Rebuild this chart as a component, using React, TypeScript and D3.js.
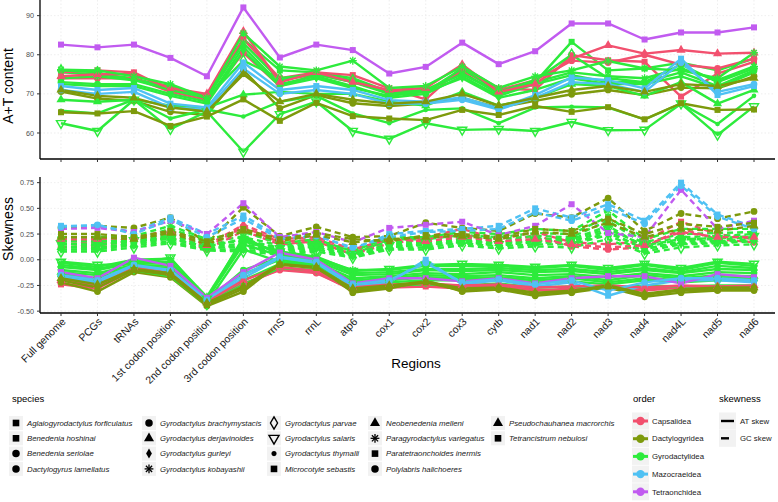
import React from "react";
import * as d3 from "d3";

const regions = ["Full genome","PCGs","tRNAs","1st codon position","2nd codon position","3rd codon position","rrnS","rrnL","atp6","cox1","cox2","cox3","cytb","nad1","nad2","nad3","nad4","nad4L","nad5","nad6"];

const speciesNames = [
  "Aglaiogyrodactylus forficulatus","Benedenia hoshinai","Benedenia seriolae","Dactylogyrus lamellatus",
  "Gyrodactylus brachymystacis","Gyrodactylus derjavinoides","Gyrodactylus gurleyi","Gyrodactylus kobayashii",
  "Gyrodactylus parvae","Gyrodactylus salaris","Gyrodactylus thymalli","Microcotyle sebastis",
  "Neobenedenia melleni","Paragyrodactylus variegatus","Paratetraonchoides inermis","Polylabris halichoeres",
  "Pseudochauhanea macrorchis","Tetrancistrum nebulosi"];

const speciesOrder = [
  "Gyrodactylidea","Capsalidea","Capsalidea","Dactylogyridea",
  "Gyrodactylidea","Gyrodactylidea","Gyrodactylidea","Gyrodactylidea",
  "Gyrodactylidea","Gyrodactylidea","Gyrodactylidea","Mazocraeidea",
  "Capsalidea","Gyrodactylidea","Tetraonchidea","Mazocraeidea",
  "Dactylogyridea","Dactylogyridea"];

const speciesShape = [
  "square","square","circle","circle",
  "circle","triangle","diamond","asterisk",
  "opendiamond","opentriangledown","smallcircle","square",
  "triangle","asterisk","square","circle",
  "triangle","square"];

const orders = ["Capsalidea","Dactylogyridea","Gyrodactylidea","Mazocraeidea","Tetraonchidea"];
const orderColors = ["#F2506E","#7D9A0C","#2DEB3C","#4FC1F3","#C15BF0"];

const skewTypes = ["AT skew","GC skew"];
const atTicks = [60,70,80,90];
const skewTicks = [-0.5,-0.25,0,0.25,0.5,0.75];
const skewTickLabels = ["-0.50","-0.25","0.00","0.25","0.50","0.75"];

const atContent = [
  [75.5,75,74,71.5,69.5,84,76,75.5,74,70.5,71,75.5,70,73,83.3,76,76.5,78,76,79],
  [75.5,76,75.5,71,69.5,84,74,75.5,74.8,71.4,68.6,76.9,71.4,71,79.9,78.6,78.2,69.3,75.2,78.2],
  [74,74,74,70.5,68.5,80.5,72,75,73,70.5,70.5,76,71,73.5,78.5,78,80,77.5,76.5,79],
  [70.6,68.8,68.2,65.4,64.6,76.1,66.3,69.7,67.6,66.9,67.5,69,66.5,68.2,69.9,71,69.7,71.6,71.4,74.5],
  [73,72.5,72.5,70,68,82,72.5,74.5,72,69,70,74.5,69.5,72.5,74.8,73,73,75.5,72,76],
  [68.5,68,68.5,67,66.5,69.8,70.5,70,70,68,67,70.5,67,69,72.5,72,69.5,73,67.5,71],
  [72.5,72,72,69.5,67.5,81,72,74,71.5,69.5,70.5,74,69,71,74,72.5,72.5,74.5,71.5,75.5],
  [74,74.5,73.5,72,69,83,73.5,75,73,70,71,75,70.5,73,75.5,74.5,74,76.5,73.5,77],
  [76,75.5,73.5,71,69,78.5,74,75,73.5,70,70.5,76.5,70.5,73.5,80,74,73,77.5,73,76.5],
  [62.5,60.5,68.5,61,65.5,55.2,64.8,68,60.5,58.5,62.5,60.8,61,60.5,62.8,60.7,60.8,67.5,59.5,66.8],
  [65.7,65,68.5,63.7,66,64.2,68,69.5,65,62.5,65.9,66.3,62.5,66.5,66.7,66.5,63.5,67.5,62.3,69.5],
  [72,71,71.5,67.5,66.5,78,71,72,71,68.4,68,69.1,66.3,69.7,74.2,73.5,71.4,79,69.7,72],
  [74.5,75,75,71.5,70,86,73,75.5,73,71,71.5,77.5,70.5,72.5,79,82.4,80.3,81.2,80.3,80.5],
  [76.2,76,74.5,72.5,69,85.5,77,76,78.5,71.5,72,77,71.5,74.5,76,78.4,76.5,76,74,80.5],
  [82.6,81.9,82.6,79.2,74.5,92.1,79.3,82.6,81.2,75.2,76.9,83.1,77.6,80.9,88,88,83.9,85.7,85.7,87],
  [71,70,70.5,66.5,66,76.5,70,71,70,67.5,67.5,68.5,66,69,73,72.5,70.5,78,70.5,72.5],
  [71,69.5,69,66.5,65.5,75,68,70,68.5,67.5,68,70,67,69,71,72,70.5,72.5,72,74],
  [65.3,65,65.6,61.8,64.2,68.6,63.1,67.7,64.3,63.7,63.3,65.9,64.6,66.9,65.4,66.6,63.5,67.6,65.9,66]
];

const atSkew = [
  [-0.05,-0.09,-0.02,-0.02,-0.38,0.15,0.04,0.01,-0.13,-0.12,-0.09,-0.09,-0.08,-0.1,-0.09,-0.12,-0.08,-0.12,-0.06,-0.08],
  [-0.24,-0.28,-0.1,-0.15,-0.43,-0.25,-0.09,-0.12,-0.3,-0.27,-0.26,-0.28,-0.25,-0.3,-0.28,-0.28,-0.3,-0.27,-0.28,-0.27],
  [-0.23,-0.27,-0.09,-0.14,-0.42,-0.23,-0.1,-0.13,-0.29,-0.26,-0.25,-0.27,-0.26,-0.29,-0.3,-0.27,-0.29,-0.26,-0.29,-0.28],
  [-0.22,-0.31,-0.12,-0.17,-0.45,-0.31,-0.03,-0.06,-0.32,-0.28,-0.2,-0.31,-0.29,-0.35,-0.32,-0.27,-0.36,-0.32,-0.3,-0.3],
  [-0.1,-0.13,-0.05,-0.06,-0.4,-0.1,0.02,-0.03,-0.18,-0.16,-0.13,-0.14,-0.12,-0.15,-0.14,-0.17,-0.13,-0.16,-0.12,-0.13],
  [-0.12,-0.15,-0.06,-0.08,-0.41,-0.14,0,-0.05,-0.2,-0.18,-0.15,-0.16,-0.15,-0.18,-0.16,-0.2,-0.15,-0.18,-0.15,-0.16],
  [-0.14,-0.18,-0.07,-0.1,-0.42,0.1,-0.02,-0.06,-0.22,-0.2,-0.17,-0.18,-0.17,-0.2,-0.18,-0.22,-0.18,-0.2,-0.17,-0.18],
  [-0.07,-0.1,-0.03,-0.04,-0.39,0.22,0.05,-0.01,-0.15,-0.14,-0.1,-0.11,-0.1,-0.12,-0.11,-0.14,-0.1,-0.13,-0.09,-0.1],
  [-0.16,-0.2,-0.08,-0.12,-0.43,-0.2,-0.04,-0.08,-0.24,-0.22,-0.2,-0.2,-0.19,-0.22,-0.21,-0.24,-0.2,-0.22,-0.2,-0.2],
  [-0.02,-0.05,-0.04,0.02,-0.38,0.18,0.08,0.03,-0.11,-0.09,-0.05,-0.04,-0.05,-0.07,-0.05,-0.08,-0.04,-0.08,-0.02,-0.04],
  [-0.2,-0.24,-0.1,-0.16,-0.44,-0.24,-0.08,-0.1,-0.28,-0.25,-0.24,-0.25,-0.23,-0.27,-0.26,-0.28,-0.25,-0.26,-0.25,-0.25],
  [-0.17,-0.22,-0.06,-0.11,-0.4,-0.18,0.02,-0.03,-0.26,-0.22,0,-0.24,-0.2,-0.26,-0.22,-0.35,-0.25,-0.2,-0.2,-0.22],
  [-0.2,-0.25,-0.08,-0.13,-0.41,-0.2,-0.07,-0.11,-0.27,-0.24,-0.23,-0.25,-0.24,-0.27,-0.26,-0.25,-0.27,-0.25,-0.26,-0.25],
  [-0.03,-0.07,0,0.01,-0.36,0.2,0.06,0.02,-0.1,-0.1,-0.06,-0.06,-0.06,-0.08,-0.06,-0.1,-0.05,-0.1,-0.03,-0.06],
  [-0.12,-0.18,0.02,-0.06,-0.37,-0.12,0.07,0,-0.23,-0.18,-0.18,-0.21,-0.18,-0.23,-0.18,-0.16,-0.16,-0.23,-0.14,-0.17],
  [-0.15,-0.2,-0.05,-0.1,-0.39,-0.15,0.03,-0.02,-0.24,-0.2,-0.03,-0.22,-0.19,-0.24,-0.2,-0.3,-0.22,-0.18,-0.18,-0.2],
  [-0.18,-0.24,-0.09,-0.13,-0.42,-0.26,-0.04,-0.07,-0.28,-0.25,-0.21,-0.28,-0.27,-0.32,-0.3,-0.25,-0.33,-0.29,-0.27,-0.27],
  [-0.2,-0.27,-0.1,-0.15,-0.44,-0.28,-0.05,-0.08,-0.3,-0.27,-0.22,-0.3,-0.28,-0.33,-0.31,-0.26,-0.34,-0.3,-0.29,-0.28]
];

const gcSkew = [
  [0.2,0.21,0.2,0.3,0.18,0.22,0.14,0.18,0.05,0.2,0.2,0.24,0.22,0.26,0.25,0.42,0.17,0.25,0.26,0.27],
  [0.15,0.17,0.2,0.25,0.12,0.32,0.17,0.2,0.07,0.18,0.22,0.3,0.2,0.27,0.17,0.15,0.18,0.37,0.25,0.2],
  [0.12,0.14,0.18,0.22,0.1,0.28,0.15,0.18,0.05,0.16,0.2,0.25,0.16,0.24,0.13,0.1,0.12,0.3,0.2,0.17],
  [0.31,0.33,0.31,0.41,0.16,0.51,0.23,0.32,0.22,0.23,0.36,0.31,0.28,0.45,0.41,0.6,0.28,0.45,0.4,0.47],
  [0.15,0.15,0.17,0.24,0.14,0.15,0.1,0.14,0.06,0.15,0.16,0.2,0.18,0.2,0.2,0.33,0.12,0.2,0.2,0.22],
  [0.12,0.12,0.15,0.21,0.12,0.12,0.08,0.12,0.04,0.13,0.14,0.18,0.16,0.18,0.18,0.28,0.1,0.18,0.18,0.2],
  [0.1,0.1,0.14,0.18,0.1,0.1,0.06,0.1,0.03,0.11,0.12,0.16,0.13,0.15,0.15,0.24,0.08,0.15,0.16,0.18],
  [0.18,0.18,0.18,0.27,0.16,0.18,0.12,0.16,0.1,0.17,0.18,0.22,0.2,0.23,0.22,0.38,0.15,0.22,0.23,0.25],
  [0.08,0.08,0.12,0.16,0.09,0.08,0.05,0.08,0.02,0.1,0.1,0.14,0.11,0.13,0.12,0.2,0.06,0.12,0.14,0.15],
  [0.16,0.14,0.19,0.2,0.13,0.2,0.11,0.15,0.07,0.14,0.17,0.19,0.15,0.19,0.2,0.3,0.14,0.2,0.21,0.23],
  [0.13,0.11,0.16,0.22,0.11,0.14,0.09,0.13,0.05,0.12,0.15,0.17,0.14,0.17,0.16,0.26,0.11,0.16,0.17,0.19],
  [0.33,0.33,0.27,0.41,0.25,0.43,0.22,0.25,0.1,0.25,0.28,0.3,0.33,0.5,0.41,0.54,0.38,0.75,0.44,0.32],
  [0.2,0.2,0.22,0.28,0.14,0.34,0.2,0.22,0.1,0.2,0.18,0.22,0.18,0.2,0.15,0.12,0.14,0.27,0.22,0.22],
  [0.22,0.22,0.23,0.33,0.2,0.27,0.16,0.2,0.08,0.22,0.22,0.27,0.25,0.3,0.28,0.48,0.2,0.3,0.3,0.3],
  [0.3,0.31,0.27,0.38,0.25,0.55,0.22,0.27,0.17,0.31,0.34,0.37,0.24,0.33,0.54,0.26,0.22,0.68,0.3,0.38],
  [0.32,0.34,0.25,0.39,0.22,0.4,0.2,0.23,0.12,0.22,0.27,0.28,0.3,0.46,0.38,0.5,0.35,0.72,0.42,0.3],
  [0.22,0.22,0.2,0.26,0.15,0.28,0.18,0.24,0.17,0.2,0.22,0.23,0.2,0.27,0.25,0.36,0.22,0.3,0.28,0.33],
  [0.25,0.25,0.22,0.28,0.18,0.3,0.2,0.26,0.2,0.18,0.24,0.25,0.22,0.3,0.28,0.4,0.25,0.35,0.32,0.36]
];

const FONT = "'Liberation Sans', Arial, Helvetica, sans-serif";
const orderColor = d3.scaleOrdinal<string, string>().domain(orders).range(orderColors);

function Marker({ shape, x, y, color, k = 1 }: { shape: string; x: number; y: number; color: string; k?: number }) {
  const t = `translate(${x},${y})`;
  switch (shape) {
    case "square":
      return <rect x={x - 3 * k} y={y - 3 * k} width={6 * k} height={6 * k} fill={color} />;
    case "circle":
      return <circle cx={x} cy={y} r={3.4 * k} fill={color} />;
    case "smallcircle":
      return <circle cx={x} cy={y} r={2.3 * k} fill={color} />;
    case "triangle":
      return <path transform={t} d={d3.symbol(d3.symbolTriangle, 36 * k * k)() || ""} fill={color} />;
    case "diamond":
      return <path transform={t} d={d3.symbol(d3.symbolDiamond, 24 * k * k)() || ""} fill={color} />;
    case "opendiamond":
      return <path transform={t} d={d3.symbol(d3.symbolDiamond, 36 * k * k)() || ""} fill="none" stroke={color} strokeWidth={1.4} />;
    case "opentriangledown":
      return <path transform={`${t} rotate(180)`} d={d3.symbol(d3.symbolTriangle, 36 * k * k)() || ""} fill="none" stroke={color} strokeWidth={1.4} />;
    case "asterisk": {
      const r = 4 * k;
      const q = r * 0.7071;
      return (
        <g transform={t} stroke={color} strokeWidth={1.3}>
          <line x1={-r} y1={0} x2={r} y2={0} />
          <line x1={0} y1={-r} x2={0} y2={r} />
          <line x1={-q} y1={-q} x2={q} y2={q} />
          <line x1={-q} y1={q} x2={q} y2={-q} />
        </g>
      );
    }
    default:
      return null;
  }
}

export default function App() {
  const W = 778, H = 502;
  const left = 40, right = 775;
  const x = d3.scalePoint<string>().domain(regions).range([61, 754]);
  const yTop = d3.scaleLinear().domain([53.35, 94]).range([159, 0]);
  const yBot = d3.scaleLinear().domain([-0.518, 0.805]).range([313, 177]);
  const lineTop = d3.line<number>().x((_, i) => x(regions[i]) as number).y((d) => yTop(d));
  const lineBot = d3.line<number>().x((_, i) => x(regions[i]) as number).y((d) => yBot(d));
  const grid = "#E3E3E3";

  const speciesIdx = speciesNames.map((_, i) => i);

  const legendCols = [16, 149, 274, 375, 498];
  const legendRows = [423, 438.3, 453.6, 468.9];

  return (
    <svg width={W} height={H} style={{ position: "absolute", left: 0, top: 0, background: "#fff" }} fontFamily={FONT}>
      <rect width={W} height={H} fill="#fff" />
      {/* grids */}
      {regions.map((r) => (
        <g key={"g" + r}>
          <line x1={x(r)} x2={x(r)} y1={0} y2={159} stroke={grid} strokeWidth={0.6} strokeDasharray="1.5,2" />
          <line x1={x(r)} x2={x(r)} y1={177} y2={313} stroke={grid} strokeWidth={0.6} strokeDasharray="1.5,2" />
        </g>
      ))}
      {atTicks.map((t) => (
        <line key={"ga" + t} x1={left} x2={right} y1={yTop(t)} y2={yTop(t)} stroke={grid} strokeWidth={0.6} strokeDasharray="1.5,2" />
      ))}
      {skewTicks.map((t) => (
        <line key={"gs" + t} x1={left} x2={right} y1={yBot(t)} y2={yBot(t)} stroke={grid} strokeWidth={0.6} strokeDasharray="1.5,2" />
      ))}

      {/* top panel lines */}
      {speciesIdx.map((i) => (
        <path key={"lt" + i} d={lineTop(atContent[i]) || ""} fill="none" stroke={orderColor(speciesOrder[i])} strokeWidth={2.4} strokeLinejoin="round" />
      ))}
      {speciesIdx.map((i) => (
        <g key={"pt" + i}>
          {atContent[i].map((v, j) => (
            <Marker key={j} shape={speciesShape[i]} x={x(regions[j]) as number} y={yTop(v)} color={orderColor(speciesOrder[i])} />
          ))}
        </g>
      ))}

      {/* bottom panel lines */}
      {speciesIdx.map((i) => (
        <g key={"lb" + i}>
          <path d={lineBot(gcSkew[i]) || ""} fill="none" stroke={orderColor(speciesOrder[i])} strokeWidth={2.4} strokeDasharray="6,4" />
          <path d={lineBot(atSkew[i]) || ""} fill="none" stroke={orderColor(speciesOrder[i])} strokeWidth={2.4} strokeLinejoin="round" />
        </g>
      ))}
      {speciesIdx.map((i) => (
        <g key={"pb" + i}>
          {gcSkew[i].map((v, j) => (
            <Marker key={"g" + j} shape={speciesShape[i]} x={x(regions[j]) as number} y={yBot(v)} color={orderColor(speciesOrder[i])} />
          ))}
          {atSkew[i].map((v, j) => (
            <Marker key={"a" + j} shape={speciesShape[i]} x={x(regions[j]) as number} y={yBot(v)} color={orderColor(speciesOrder[i])} />
          ))}
        </g>
      ))}

      {/* axes top */}
      <line x1={left} x2={left} y1={0} y2={159} stroke="#000" strokeWidth={1.3} />
      <line x1={left} x2={right} y1={159} y2={159} stroke="#000" strokeWidth={1.3} />
      {atTicks.map((t) => (
        <g key={"ta" + t}>
          <line x1={37} x2={left} y1={yTop(t)} y2={yTop(t)} stroke="#333" strokeWidth={1} />
          <text x={34} y={yTop(t)} dy="0.35em" textAnchor="end" fontSize={7.2} fill="#4D4D4D">{t}</text>
        </g>
      ))}
      {regions.map((r) => (
        <line key={"tx" + r} x1={x(r)} x2={x(r)} y1={159} y2={162} stroke="#333" strokeWidth={1} />
      ))}
      <text transform={`translate(13,86) rotate(-90)`} textAnchor="middle" fontSize={14} fill="#000">A+T content</text>

      {/* axes bottom */}
      <line x1={left} x2={left} y1={177} y2={313} stroke="#000" strokeWidth={1.3} />
      <line x1={left} x2={right} y1={313} y2={313} stroke="#000" strokeWidth={1.3} />
      {skewTicks.map((t, k) => (
        <g key={"ts" + t}>
          <line x1={37} x2={left} y1={yBot(t)} y2={yBot(t)} stroke="#333" strokeWidth={1} />
          <text x={34} y={yBot(t)} dy="0.35em" textAnchor="end" fontSize={7.2} fill="#4D4D4D">{skewTickLabels[k]}</text>
        </g>
      ))}
      {regions.map((r) => (
        <g key={"bx" + r}>
          <line x1={x(r)} x2={x(r)} y1={313} y2={316} stroke="#333" strokeWidth={1} />
          <text transform={`translate(${x(r)},317) rotate(-45)`} dy="0.71em" textAnchor="end" fontSize={10.5} fill="#1A1A1A">{r}</text>
        </g>
      ))}
      <text transform={`translate(13,229) rotate(-90)`} textAnchor="middle" fontSize={14} fill="#000">Skewness</text>
      <text x={416} y={368} textAnchor="middle" fontSize={13.5} fill="#000">Regions</text>

      {/* species legend */}
      <text x={12} y={402} fontSize={9.5} fill="#000">species</text>
      {speciesNames.map((s, i) => {
        const c = Math.floor(i / 4), r = i % 4;
        const kx = legendCols[c], ky = legendRows[r];
        return (
          <g key={"ls" + s}>
            <rect x={kx - 7} y={ky - 7} width={14} height={14} fill="#F2F2F2" />
            <Marker shape={speciesShape[i]} x={kx} y={ky} color="#000" k={1.1} />
            <text x={kx + 11} y={ky} dy="0.35em" fontSize={7.8} fontStyle="italic" fill="#1A1A1A">{s}</text>
          </g>
        );
      })}

      {/* order legend */}
      <text x={633} y={402} fontSize={9.5} fill="#000">order</text>
      {orders.map((o, i) => {
        const ky = 421 + i * 17.7;
        return (
          <g key={"lo" + o}>
            <rect x={632} y={ky - 8.5} width={17} height={17} fill="#F2F2F2" />
            <line x1={633} x2={648} y1={ky} y2={ky} stroke={orderColor(o)} strokeWidth={3} />
            <circle cx={640.5} cy={ky} r={4.2} fill={orderColor(o)} />
            <text x={652} y={ky} dy="0.35em" fontSize={7.8} fill="#1A1A1A">{o}</text>
          </g>
        );
      })}

      {/* skewness legend */}
      <text x={719} y={402} fontSize={9.5} fill="#000">skewness</text>
      {skewTypes.map((s, i) => {
        const ky = 421 + i * 17.3;
        return (
          <g key={"lk" + s}>
            <rect x={719} y={ky - 8.5} width={17} height={17} fill="#F2F2F2" />
            <line x1={721} x2={734} y1={ky} y2={ky} stroke="#000" strokeWidth={2.4} strokeDasharray={i === 1 ? "8,6" : undefined} />
            <text x={740} y={ky} dy="0.35em" fontSize={7.8} fill="#1A1A1A">{s}</text>
          </g>
        );
      })}
    </svg>
  );
}
